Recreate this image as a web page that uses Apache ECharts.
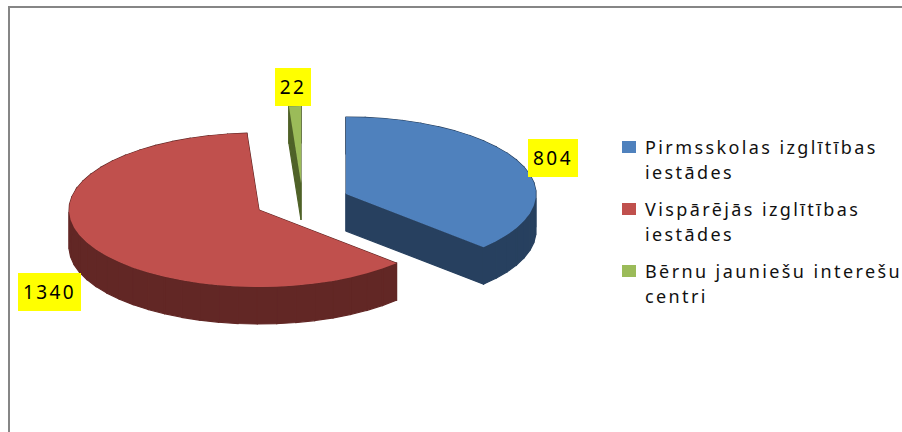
<!DOCTYPE html>
<html><head><meta charset="utf-8">
<style>
html,body{margin:0;padding:0;background:#fff}
#c{width:902px;height:432px}
svg text{letter-spacing:2.4px}
</style>
<script src="https://cdn.jsdelivr.net/npm/echarts@6/dist/echarts.min.js"></script>
</head><body><div id="c"></div>
<script>
const categories = ['Pirmsskolas izglītības iestādes', 'Vispārējās izglītības iestādes', 'Bērnu jauniešu interešu centri'];
const legendLines = ['Pirmsskolas izglītības\niestādes', 'Vispārējās izglītības\niestādes', 'Bērnu jauniešu interešu\ncentri'];
const values = [804, 1340, 22];
const topColors = ['#4F81BD', '#C0504D', '#9BBB59'];
const sideColors = ['#27405F', '#622725', '#4F6228'];
const sliceCenters = [[346, 194], [259, 210], [301, 183]];
const labelBoxes = [[528, 139, 50, 38], [18, 273, 63, 38], [275, 68, 36, 38]];
const RX = 190, RY = 77, DEPTH = 37, STEP = 6;
const total = values.reduce((a, b) => a + b, 0);
const starts = values.map((_, i) => values.slice(0, i).reduce((a, b) => a + b, 0) / total * 360);

function outline(i) {
  const [cx, cy] = sliceCenters[i];
  const a0 = starts[i], a1 = a0 + values[i] / total * 360;
  const pts = [[cx, cy]];
  const n = Math.max(1, Math.ceil((a1 - a0) / STEP));
  for (let k = 0; k <= n; k++) {
    const a = (a0 + (a1 - a0) * k / n) * Math.PI / 180;
    pts.push([cx + RX * Math.sin(a), cy - RY * Math.cos(a)]);
  }
  return pts;
}

function renderSlice(i) {
  return function () {
    const pts = outline(i);
    const children = [];
    for (let k = 0; k < pts.length; k++) {
      const p = pts[k], q = pts[(k + 1) % pts.length];
      children.push({
        type: 'polygon',
        shape: { points: [p, q, [q[0], q[1] + DEPTH], [p[0], p[1] + DEPTH]] },
        style: { fill: sideColors[i], stroke: sideColors[i], lineWidth: 1.2 }
      });
    }
    children.push({ type: 'polygon', shape: { points: pts }, style: { fill: topColors[i] } });
    const b = labelBoxes[i];
    children.push({ type: 'rect', shape: { x: b[0], y: b[1], width: b[2], height: b[3] }, style: { fill: '#FFFF00' } });
    children.push({
      type: 'text', x: b[0] + b[2] / 2, y: b[1] + b[3] / 2,
      style: { text: String(values[i]), fill: '#000', font: '19px "Noto Sans"', textAlign: 'center', textVerticalAlign: 'middle' }
    });
    return { type: 'group', children };
  };
}

const chart = echarts.init(document.getElementById('c'), null, { renderer: 'svg' });
chart.setOption({
  animation: false,
  graphic: [
    { type: 'rect', shape: { x: 8, y: 6, width: 2, height: 426 }, style: { fill: '#868686' } },
    { type: 'rect', shape: { x: 8, y: 6, width: 894, height: 2 }, style: { fill: '#868686' } }
  ],
  legend: {
    left: 622, top: 134, padding: 0, orient: 'vertical', itemGap: 12,
    itemWidth: 18, itemHeight: 50, selectedMode: false,
    icon: 'path://M0 7L14 7L14 19L0 19Z M0 0L18 0L18 0Z M0 50L18 50L18 50Z',
    data: categories,
    formatter: name => legendLines[categories.indexOf(name)],
    textStyle: { fontFamily: 'Noto Sans', fontSize: 18, lineHeight: 25, color: '#111' }
  },
  series: categories.map((name, i) => ({
    type: 'custom', name, coordinateSystem: 'none', silent: true,
    itemStyle: { color: topColors[i] },
    data: [[values[i]]],
    renderItem: renderSlice(i)
  }))
});
</script></body></html>
